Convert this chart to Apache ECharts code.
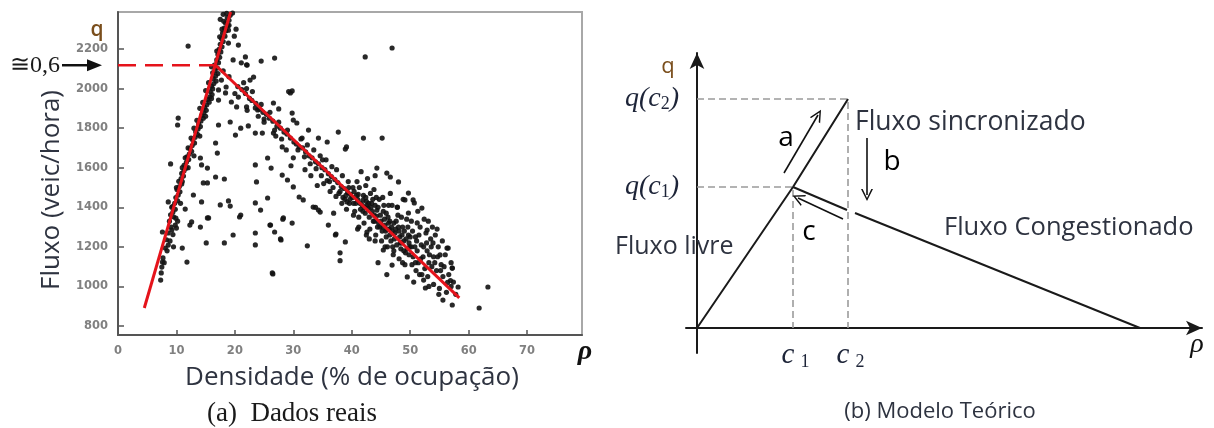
<!DOCTYPE html>
<html>
<head>
<meta charset="utf-8">
<script src="https://cdn.jsdelivr.net/npm/echarts@6/dist/echarts.min.js"></script>
<style>
  html, body { margin: 0; padding: 0; background: #ffffff; }
  #chart { width: 1214px; height: 428px; }
</style>
</head>
<body>
<div id="chart"></div>
<script>
// ---------- (a) measured flow vs. occupancy ----------
const densityTicks = [0, 10, 20, 30, 40, 50, 60, 70];
const flowTicks = [800, 1000, 1200, 1400, 1600, 1800, 2000, 2200];

// free-flow branch observations [occupancy %, veh/h]
const freeFlowObs = [
  [7.3,1032],[7.4,1068],[7.5,1098],[7.7,1144],[7.9,1120],[8.1,1194],[8.4,1180],[8.6,1209],[8.3,1236],[8.9,1230],
  [7.6,1275],[8.6,1270],[9.4,1262],[9.1,1300],[9.2,1285],[9.8,1310],[10.0,1295],[10.2,1330],[9.9,1345],[9.5,1352],
  [9.0,1362],[9.4,1376],[9.8,1390],[9.3,1404],[9.7,1420],[10.2,1433],[9.9,1449],[10.3,1462],[10.6,1478],[10.1,1490],
  [10.5,1505],[10.9,1518],[10.4,1531],[10.8,1545],[11.2,1558],[10.9,1571],[11.3,1585],[11.7,1598],[11.3,1612],[11.7,1627],
  [12.1,1641],[11.8,1655],[12.2,1669],[12.6,1683],[12.3,1697],[12.7,1712],[13.1,1725],[12.8,1740],[13.2,1754],[13.6,1768],
  [13.3,1782],[13.7,1796],[14.1,1808],[13.8,1822],[14.2,1836],[14.6,1850],[14.3,1864],[14.7,1878],[15.1,1890],[14.8,1905],
  [15.2,1918],[15.6,1931],[15.3,1945],[15.7,1958],[16.1,1970],[15.8,1985],[16.2,1998],[16.0,2012],[16.4,2025],[16.8,2038],
  [16.3,2051],[16.7,2064],[17.1,2076],[16.6,2090],[17.0,2104],[16.5,2118],[17.2,2131],[16.9,2145],[17.4,2158],[17.1,2172],
  [17.6,2185],[17.3,2198],[17.8,2211],[17.5,2224],[18.0,2238],[17.7,2252],[18.3,2265],[17.9,2280],[18.5,2292],[18.2,2306],
  [18.8,2318],[18.4,2332],[19.0,2345],[18.7,2358],[19.2,2370],[19.6,2382],[18.1,2340],[17.4,2262],[16.9,2190],[18.9,2295],
  [12.0,1600],[11.0,1530],[13.0,1660],[14.0,1760],[15.0,1860],[16.0,1950],[10.7,1420],[12.5,1750],[13.5,1840],[14.5,1930],
  [15.5,2030],[11.5,1650],[16.2,2080],[16.0,2110],[17.8,2300],[18.6,2380],[19.0,2320],[15.0,1990],[14.0,1900],[13.0,1800],
  [12.0,1700],[11.0,1600],[10.0,1500],[9.2,1400],[8.8,1330],[17.5,2350],[18.0,2375]
];

// points around the capacity peak and the upper region
const peakObs = [
  [18.9,2230],[20.6,2220],[21.8,2160],[19.7,2145],[21.1,2130],[22.0,2120],[17.7,2043],[18.5,2008],[17.2,1993],[18.4,1978],
  [17.2,1942],[19.4,1932],[20.3,1907],[22.0,1907],[20.6,1957],[23.5,1902],[12.0,2215],[19.9,2265],[20.2,2300],[18.0,2090],
  [19.0,2060],[22.1,2119],[24.5,2139],[26.8,2154],[23.2,2058],[22.6,2043],[29.5,1978],[29.8,1988],[29.2,1985],[22.1,1890],
  [26.6,1927],[27.5,1897],[23.9,1892],[25.0,1846],[29.8,1876],[30.0,1841],[30.6,1826],[22.3,1811],[24.7,1775],[26.6,1775],
  [32.6,1790],[34.3,1750],[35.8,1730],[37.7,1780],[39.1,1705],[42.0,1750],[45.2,1750],[31.5,1750],[28.1,1705],[42.3,2160],
  [46.9,2205]
];

// scattered points between the two branches
const spreadObs = [
  [17.2,1816],[19.2,1831],[21.0,1800],[20.1,1765],[16.7,1725],[23.5,1775],[17.0,1674],[14.1,1649],[14.3,1614],[15.3,1598],
  [16.7,1553],[18.2,1543],[14.6,1523],[15.3,1523],[12.9,1462],[14.3,1427],[17.5,1412],[18.9,1432],[19.2,1406],[11.5,1391],
  [15.5,1346],[21.0,1361],[12.6,1326],[23.5,1422],[23.5,1614],[10.3,1851],[10.2,1816],[9.0,1619],[8.6,1427],[9.5,1200],
  [7.6,1123],[11.0,1194],[11.8,1123],[12.3,1310],[14.1,1300],[15.3,1346],[15.1,1220],[18.2,1220],[19.7,1260],[20.8,1351],
  [23.5,1270],[23.5,1210],[26.0,1310],[26.8,1275],[28.2,1340],[29.8,1320],[27.8,1240],[26.5,1063],[32.4,1205],[38.0,1170],
  [38.0,1130],[38.9,1225],[37.3,1265],[36.0,1310],[34.3,1386],[33.8,1400],[36.9,1370],[40.3,1360],[41.2,1300],[39.2,1427],
  [42.6,1275],[25.6,1649],[26.2,1598],[23.7,1528],[25.6,1447],[24.4,1386],[26.1,1310],[27.9,1235],[28.3,1346],[28.1,1563],
  [29.0,1538],[30.0,1503],[31.0,1452],[31.7,1437],[33.4,1401],[34.6,1376],[37.2,1260],[26.4,1068],[38.9,1694],[44.3,1598],
  [45.4,1184],[46.9,1108],[44.5,1120],[46.0,1060]
];

// congested branch observations
const congestedObs = [
  [20.5,2010],[21.2,1995],[21.8,1975],[22.5,1950],[22.9,1940],[23.6,1925],[24.2,1895],[24.8,1880],[25.4,1870],[25.9,1850],
  [26.5,1835],[27.2,1810],[27.8,1800],[28.4,1780],[28.9,1770],[29.5,1750],[30.1,1730],[21.5,2030],[23.0,1985],[24.5,1920],
  [26.0,1880],[27.5,1830],[29.0,1790],[20.0,1975],[22.0,2000],[25.0,1830],[28.0,1745],[26.8,1790],[24.0,1860],[27.0,1760],
  [30.5,1720],[31.0,1705],[31.6,1700],[32.1,1680],[32.7,1660],[33.2,1650],[33.8,1630],[34.3,1620],[34.9,1600],[35.4,1590],
  [36.0,1570],[36.5,1555],[37.1,1540],[37.6,1525],[38.2,1505],[38.7,1495],[39.3,1475],[39.8,1465],[30.8,1690],[31.9,1655],
  [32.9,1620],[33.9,1595],[34.8,1560],[35.8,1535],[36.8,1500],[37.8,1470],[38.8,1440],[39.6,1420],[31.3,1745],[32.4,1715],
  [33.5,1690],[34.6,1660],[35.6,1640],[36.6,1605],[37.4,1590],[38.4,1560],[39.4,1530],[35.2,1520],[36.3,1480],[37.3,1455],
  [38.3,1420],[39.1,1390],[33.0,1560],[34.1,1510],[32.0,1590],[30.0,1650],[28.8,1690],[29.6,1610],[35.0,1640],[36.2,1530],
  [38.0,1480],[39.5,1500],
  [40.1,1450],[40.4,1480],[40.7,1420],[41.0,1440],[41.3,1500],[41.5,1390],[41.8,1410],[42.0,1460],[42.3,1370],[42.5,1430],
  [42.8,1395],[43.0,1350],[43.2,1470],[43.5,1380],[43.7,1330],[44.0,1410],[44.2,1355],[44.4,1300],[44.7,1440],[45.0,1330],
  [45.2,1280],[45.4,1380],[45.7,1310],[45.9,1250],[46.2,1350],[46.4,1290],[46.7,1230],[46.9,1410],[47.2,1320],[47.4,1270],
  [47.7,1210],[47.9,1360],[48.2,1250],[48.4,1190],[48.7,1300],[48.9,1230],[49.2,1170],[49.4,1340],[49.7,1260],[49.9,1200],
  [40.5,1380],[41.2,1350],[42.1,1320],[43.1,1290],[44.1,1260],[45.1,1230],[46.1,1200],[47.1,1160],[48.1,1140],[49.1,1110],
  [40.9,1530],[42.4,1510],[43.8,1490],[45.3,1450],[46.6,1470],[47.8,1400],[48.8,1440],[49.7,1472],[49.1,1437],[47.8,1401],
  [46.6,1553],[44.0,1560],[42.7,1545],[41.6,1580],[40.3,1420],[41.1,1465],[41.9,1435],[42.6,1410],[43.4,1420],[44.3,1385],
  [44.9,1360],[45.6,1340],[46.3,1320],[46.8,1300],[47.5,1290],[48.1,1280],[48.6,1260],[49.3,1240],[49.8,1220],[43.9,1330],
  [44.6,1320],[45.8,1280],[46.5,1260],[47.3,1240],[48.3,1220],[49.5,1190],[42.2,1400],[43.6,1440],
  [50.2,1200],[50.5,1150],[50.7,1422],[50.9,1250],[51.2,1180],[51.4,1120],[51.7,1300],[51.9,1210],[52.0,1396],[52.2,1150],
  [52.5,1090],[52.7,1270],[52.9,1180],[53.2,1120],[53.5,1240],[53.8,1300],[54.0,1150],[54.3,1260],[54.5,1080],[54.8,1200],
  [55.1,1159],[55.3,1110],[55.6,1050],[56.0,1160],[56.3,1194],[56.6,1060],[57.0,1120],[57.2,1093],[57.4,1022],[58.2,997],
  [55.6,931],[57.2,906],[63.3,997],[61.8,891],[52.6,992],[52.3,1032],[49.5,1048],[50.6,1022],[51.0,1080],[53.0,1050],
  [54.0,1010],[55.0,990],[56.2,970],[50.3,1110],[51.6,1060],[53.6,1200],[52.4,1340],[53.9,1220],[55.5,1230],[56.9,1030],
  [46.0,1573],[48.0,1528],[50.5,1437],[49.7,1371],[51.2,1321],[52.9,1285],[56.5,1194],[57.2,1093],
  [38.5,1450],[39.0,1460],[39.7,1440],[40.2,1500],[40.8,1460],[41.4,1420],[41.9,1380],[42.4,1450],[42.9,1420],[43.3,1400],
  [43.8,1360],[44.5,1400],[44.8,1300],[45.3,1300],[45.5,1410],[45.9,1370],[46.0,1290],[46.5,1330],[46.9,1280],[47.0,1200],
  [47.6,1330],[48.0,1300],[48.5,1220],[48.9,1180],[49.0,1280],[49.6,1300],[50.0,1250],[50.4,1280],[50.8,1200],[51.1,1230],
  [51.5,1260],[51.8,1140],[52.3,1200],[52.8,1220],[53.3,1160],[53.7,1100],[54.2,1120],[54.7,1150],[55.2,1080],[55.8,1100],
  [56.4,1020],[57.0,1000],[57.8,960],[44.2,1450],[46.3,1410],[48.5,1350],[50.2,1330],[51.3,1380],[53.1,1330],[54.6,1290],
  [47.2,1180],[45.7,1200],[44.0,1230],[42.5,1260],[41.0,1290],[43.0,1240],[50.9,1120],[52.0,1060],[49.8,1160],[48.7,1120],
  [53.2,1000],[54.9,960]
];

// fitted triangular diagram
const freeFlowFit = [[4.5, 891], [19.27, 2387]];
const congestedFit = [[16.7, 2118], [58.4, 942]];
const capacityDensity = 16.7;
const capacityFlow = 2118;

// ---------- (b) theoretical three-phase model ----------
const c1 = 96, c2 = 151, rhoJam = 443;
const qC1 = 141, qC2 = 229;
const freeBranch = [[0, 0], [c1, qC1], [c2, qC2]];
const congestedBranchA = [[c1, qC1], [150, 118]];
const congestedBranchB = [[158, 115], [rhoJam, 0]];
const transitionA = [[87, 155], [121, 213]];
const transitionB = [[170, 190], [170, 133]];
const transitionC = [[146, 109], [101, 130]];

const TXT = '#2e3340';
const QCOL = '#7a4e1c';
const MATH = '#1d2438';
const SANS = '"Open Sans", "Noto Sans", sans-serif';
const SERIF = '"Liberation Serif", "DejaVu Serif", serif';
const OPEN_V = 'path://M5,0 L10,10 L8.6,10 L5,2.6 L1.4,10 L0,10 Z';

const chart = echarts.init(document.getElementById('chart'), null, { renderer: 'canvas' });

const subRich = {
  v: { fontFamily: SERIF, fontStyle: 'italic', fontSize: 28, color: MATH, lineHeight: 28, verticalAlign: 'top' },
  s: { fontFamily: SERIF, fontSize: 18, color: MATH, lineHeight: 8, verticalAlign: 'bottom' }
};

function dashed(data) {
  return {
    type: 'line', xAxisIndex: 1, yAxisIndex: 1, data, symbol: 'none', silent: true, z: 2,
    lineStyle: { color: '#9b9b9b', width: 1.6, type: [7, 4] }
  };
}
function arrow(coords) {
  return {
    type: 'lines', coordinateSystem: 'cartesian2d', xAxisIndex: 1, yAxisIndex: 1, silent: true, z: 5,
    symbol: ['none', OPEN_V], symbolSize: [10, 12],
    lineStyle: { color: '#111', width: 1.6, opacity: 1, curveness: 0 },
    data: [{ coords }]
  };
}

const tickLabel = { margin: 10, color: '#808080', fontSize: 11.5, fontWeight: 'bold', fontFamily: '"DejaVu Sans"', formatter: v => String(v) };

const option = {
  backgroundColor: '#ffffff',
  animation: false,
  grid: [
    { left: 118, top: 12, width: 464, height: 323, show: true, borderColor: '#a8a8a8', borderWidth: 2 },
    { left: 686, top: 53, width: 516, height: 300 }
  ],
  xAxis: [
    {
      gridIndex: 0, type: 'value', min: 0, max: 79.4,
      axisLine: { show: true, lineStyle: { color: '#555', width: 2 } },
      axisTick: { show: true, inside: true, length: 5, customValues: densityTicks, lineStyle: { color: '#555', width: 1.5 } },
      axisLabel: Object.assign({}, tickLabel, { customValues: densityTicks, margin: 10 }),
      splitLine: { show: false }
    },
    {
      gridIndex: 1, type: 'value', min: -11, max: 505,
      axisLine: { show: true, onZero: true, symbol: ['none', 'arrow'], symbolSize: [11, 16], lineStyle: { color: '#1a1a1a', width: 2 } },
      axisTick: { show: false },
      axisLabel: { show: false },
      splitLine: { show: false }
    }
  ],
  yAxis: [
    {
      gridIndex: 0, type: 'value', min: 754.5, max: 2387,
      axisLine: { show: true, lineStyle: { color: '#555', width: 2 } },
      axisTick: { show: true, inside: true, length: 6, customValues: flowTicks, lineStyle: { color: '#555', width: 1.5 } },
      axisLabel: Object.assign({}, tickLabel, { customValues: flowTicks }),
      splitLine: { show: false }
    },
    {
      gridIndex: 1, type: 'value', min: -25, max: 275,
      axisLine: { show: true, onZero: true, symbol: ['none', 'arrow'], symbolSize: [11, 16], lineStyle: { color: '#1a1a1a', width: 2 } },
      axisTick: { show: false },
      axisLabel: {
        customValues: [qC1, qC2], margin: 7,
        formatter: v => (v === qC1 ? '{v|q(c}{s|1}{v|)}' : '{v|q(c}{s|2}{v|)}'),
        rich: subRich
      },
      splitLine: { show: false }
    }
  ],
  series: [
    {
      type: 'scatter', xAxisIndex: 0, yAxisIndex: 0, silent: true, z: 2,
      data: freeFlowObs.concat(peakObs, spreadObs, congestedObs),
      symbolSize: 5.2,
      itemStyle: { color: '#121212', opacity: 0.9 }
    },
    {
      type: 'line', xAxisIndex: 0, yAxisIndex: 0, silent: true, z: 4, symbol: 'none',
      data: [[0, capacityFlow], [capacityDensity, capacityFlow]],
      lineStyle: { color: '#e5131b', width: 2.5, type: [18, 9] }
    },
    {
      type: 'line', xAxisIndex: 0, yAxisIndex: 0, silent: true, z: 5, symbol: 'none',
      data: freeFlowFit, lineStyle: { color: '#e5131b', width: 3 }
    },
    {
      type: 'line', xAxisIndex: 0, yAxisIndex: 0, silent: true, z: 5, symbol: 'none',
      data: congestedFit, lineStyle: { color: '#e5131b', width: 3 }
    },
    dashed([[0, qC2], [c2, qC2], [c2, 0]]),
    dashed([[0, qC1], [c1, qC1], [c1, 0]]),
    {
      type: 'line', xAxisIndex: 1, yAxisIndex: 1, silent: true, z: 4, symbol: 'none',
      data: freeBranch, lineStyle: { color: '#1a1a1a', width: 2 }
    },
    {
      type: 'line', xAxisIndex: 1, yAxisIndex: 1, silent: true, z: 4, symbol: 'none',
      data: congestedBranchA, lineStyle: { color: '#1a1a1a', width: 2 }
    },
    {
      type: 'line', xAxisIndex: 1, yAxisIndex: 1, silent: true, z: 4, symbol: 'none',
      data: congestedBranchB, lineStyle: { color: '#1a1a1a', width: 2 }
    },
    arrow(transitionA),
    arrow(transitionB),
    arrow(transitionC)
  ]
};

chart.setOption(option);

// annotations placed from the axes' own scales
const capY = chart.convertToPixel({ gridIndex: 0 }, [0, capacityFlow])[1];
const c1X = chart.convertToPixel({ gridIndex: 1 }, [c1, 0])[0];
const c2X = chart.convertToPixel({ gridIndex: 1 }, [c2, 0])[0];
const axisY = chart.convertToPixel({ gridIndex: 1 }, [0, 0])[1];

function txt(text, x, y, font, fill, align, extra) {
  return Object.assign({
    type: 'text', x, y, z: 50, silent: true,
    style: { text, font, fill, align: align || 'center', verticalAlign: 'middle',
             textAlign: align || 'center', textVerticalAlign: 'middle' }
  }, extra || {});
}
function densityLabel(x, idx) {
  return [
    txt('c', x - 5, axisY + 27, 'italic 29px ' + SERIF, MATH),
    txt(idx, x + 12, axisY + 34, '18px ' + SERIF, MATH)
  ];
}

chart.setOption({
  graphic: [
    txt('q', 97, 30, '600 21px ' + SANS, QCOL),
    txt('\u22450,6', 35, capY, '24px ' + SERIF, '#1a1a1a'),
    { type: 'line', z: 50, silent: true, shape: { x1: 62, y1: capY, x2: 90, y2: capY }, style: { stroke: '#111', lineWidth: 2.5 } },
    { type: 'polygon', z: 50, silent: true, shape: { points: [[87, capY - 6], [102, capY], [87, capY + 6]] }, style: { fill: '#111' } },
    txt('\u03C1', 585, 352, 'italic bold 28px ' + SERIF, '#111'),
    txt('Fluxo (veic/hora)', 52, 190, '26px ' + SANS, TXT, 'center', { rotation: Math.PI / 2 }),
    txt('Densidade (% de ocupação)', 352, 378, '26px ' + SANS, TXT),
    txt('(a)  Dados reais', 292, 414, '27px ' + SERIF, '#1a1a1a'),

    txt('q', 668, 67, '22px ' + SANS, QCOL),
    txt('Fluxo sincronizado', 855, 122, '26.5px ' + SANS, TXT, 'left'),
    txt('a', 786, 138, '28px ' + SANS, '#000'),
    txt('b', 892, 162, '28px ' + SANS, '#000'),
    txt('c', 809, 232, '28px ' + SANS, '#000'),
    txt('Fluxo livre', 615, 247, '25px ' + SANS, TXT, 'left'),
    txt('Fluxo Congestionado', 944, 228, '25.5px ' + SANS, TXT, 'left'),
    txt('\u03C1', 1197, 345, 'italic 28px ' + SERIF, '#111'),
    txt('(b) Modelo Teórico', 940, 412, '22px "Liberation Sans Narrow", ' + SANS, TXT)
  ].concat(densityLabel(c1X, '1'), densityLabel(c2X, '2'))
});
</script>
</body>
</html>
